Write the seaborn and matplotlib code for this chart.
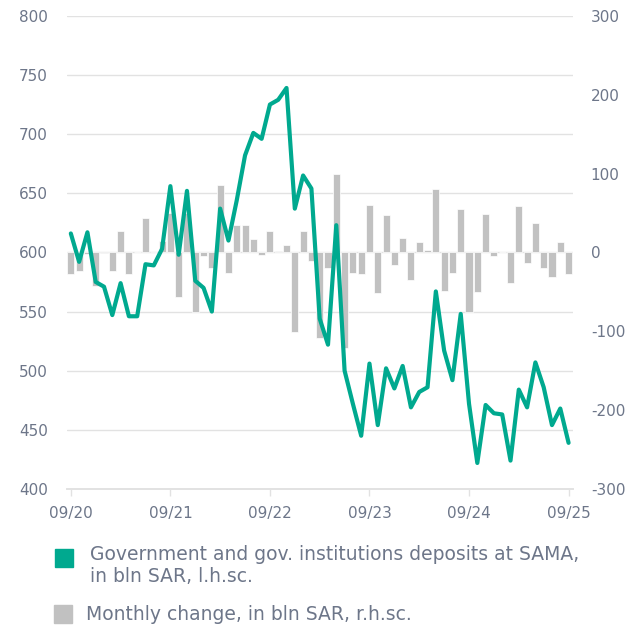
import matplotlib
matplotlib.use('Agg')
import matplotlib.pyplot as plt
from matplotlib.patches import Rectangle
import seaborn as sns
import pandas as pd

# ── Datos ─────────────────────────────────────────────────
x_labels = ['09/20', '09/21', '09/22', '09/23', '09/24', '09/25']

depositos = [616, 592, 617, 575, 571, 547, 574, 546, 546, 590,
             589, 603, 656, 598, 652, 576, 570, 550, 637, 610,
             644, 682, 701, 696, 725, 729, 739, 637, 665, 654,
             544, 522, 623, 500, 472, 445, 506, 454, 502, 485,
             504, 469, 482, 486, 567, 517, 492, 548, 472, 422,
             471, 464, 463, 424, 484, 469, 507, 486, 454, 468,
             439]

cambio_mensual = [-28, -24, -2, -43, -1, -24, 27, -27, 0, 43,
                  0, 15, 50, -57, 50, -76, -4, -20, 86, -26,
                  35, 35, 17, -3, 27, 2, 9, -101, 27, -11,
                  -108, -20, 99, -121, -26, -27, 60, -52, 47, -16,
                  18, -35, 13, 3, 80, -49, -26, 55, -75, -50,
                  49, -5, 0, -39, 59, -14, 37, -20, -31, 13,
                  -28]

leyenda_1 = 'Government and gov. institutions deposits at SAMA,\nin bln SAR, l.h.sc.'
leyenda_2 = 'Monthly change, in bln SAR, r.h.sc.'

# ── Estilo ────────────────────────────────────────────────
sns.set_theme(style='white')
plt.rcParams['font.family'] = ['DejaVu Sans']
plt.rcParams['axes.unicode_minus'] = False

VERDE = '#00a98f'
GRIS = '#c1c1c1'
GRID = '#e2e2e2'
TEXTO = '#6d7689'

df = pd.DataFrame({'mes': range(len(depositos)),
                   'depositos': depositos,
                   'cambio': cambio_mensual})

fig = plt.figure(figsize=(6.43, 6.32), dpi=100)
ax_bar = fig.add_axes([0.1037, 0.2263, 0.787, 0.7487])
ax_lin = ax_bar.twinx()
ax_lin.set_zorder(ax_bar.get_zorder() + 1)
ax_lin.patch.set_visible(False)

# Barras (eje derecho)
ax_bar.set_ylim(-300, 300)
for v in [-225, -150, -75, 0, 75, 150, 225, 300]:
    ax_bar.axhline(v, color=GRID, lw=1, zorder=0)
sns.barplot(data=df, x='mes', y='cambio', ax=ax_bar, color=GRIS,
            width=0.85, saturation=1, edgecolor='white', linewidth=0.5,
            zorder=2)

# Línea (eje izquierdo)
sns.lineplot(data=df, x='mes', y='depositos', ax=ax_lin, color=VERDE,
             lw=3, zorder=3)
ax_lin.set_ylim(400, 800)

ax_bar.set_xlim(-0.5, len(depositos) - 0.5)

# Los ejes: izquierda = línea, derecha = barras
ax_lin.yaxis.tick_left()
ax_bar.yaxis.tick_right()
ax_lin.set_yticks(range(400, 801, 50))
ax_bar.set_yticks(range(-300, 301, 100))
ax_lin.tick_params(axis='y', length=0, pad=13.5, labelsize=11, labelcolor=TEXTO)
ax_bar.tick_params(axis='y', length=0, pad=13, labelsize=11, labelcolor=TEXTO)

ax_bar.set_xticks(range(0, 61, 12))
ax_bar.set_xticklabels(x_labels)
ax_bar.tick_params(axis='x', length=5, width=1, color=GRID, pad=7,
                   labelsize=11, labelcolor=TEXTO, bottom=True)

for a in (ax_bar, ax_lin):
    for s in ['top', 'left', 'right']:
        a.spines[s].set_visible(False)
    a.spines['bottom'].set_color(GRID)
    a.set_xlabel('')
    a.set_ylabel('')

# ── Leyenda manual ────────────────────────────────────────
W, H = 643, 632
fig.add_artist(Rectangle((55 / W, 1 - 567 / H), 18 / W, 18 / H,
                         transform=fig.transFigure, color=VERDE))
fig.text(90 / W, 1 - 545 / H, leyenda_1, fontsize=13.5, color=TEXTO,
         va='top', ha='left', linespacing=1.22)
fig.add_artist(Rectangle((54 / W, 1 - 623 / H), 18 / W, 18 / H,
                         transform=fig.transFigure, color=GRIS))
fig.text(86 / W, 1 - 614 / H, leyenda_2, fontsize=13.5, color=TEXTO,
         va='center', ha='left')

fig.savefig('out.png', dpi=100)
